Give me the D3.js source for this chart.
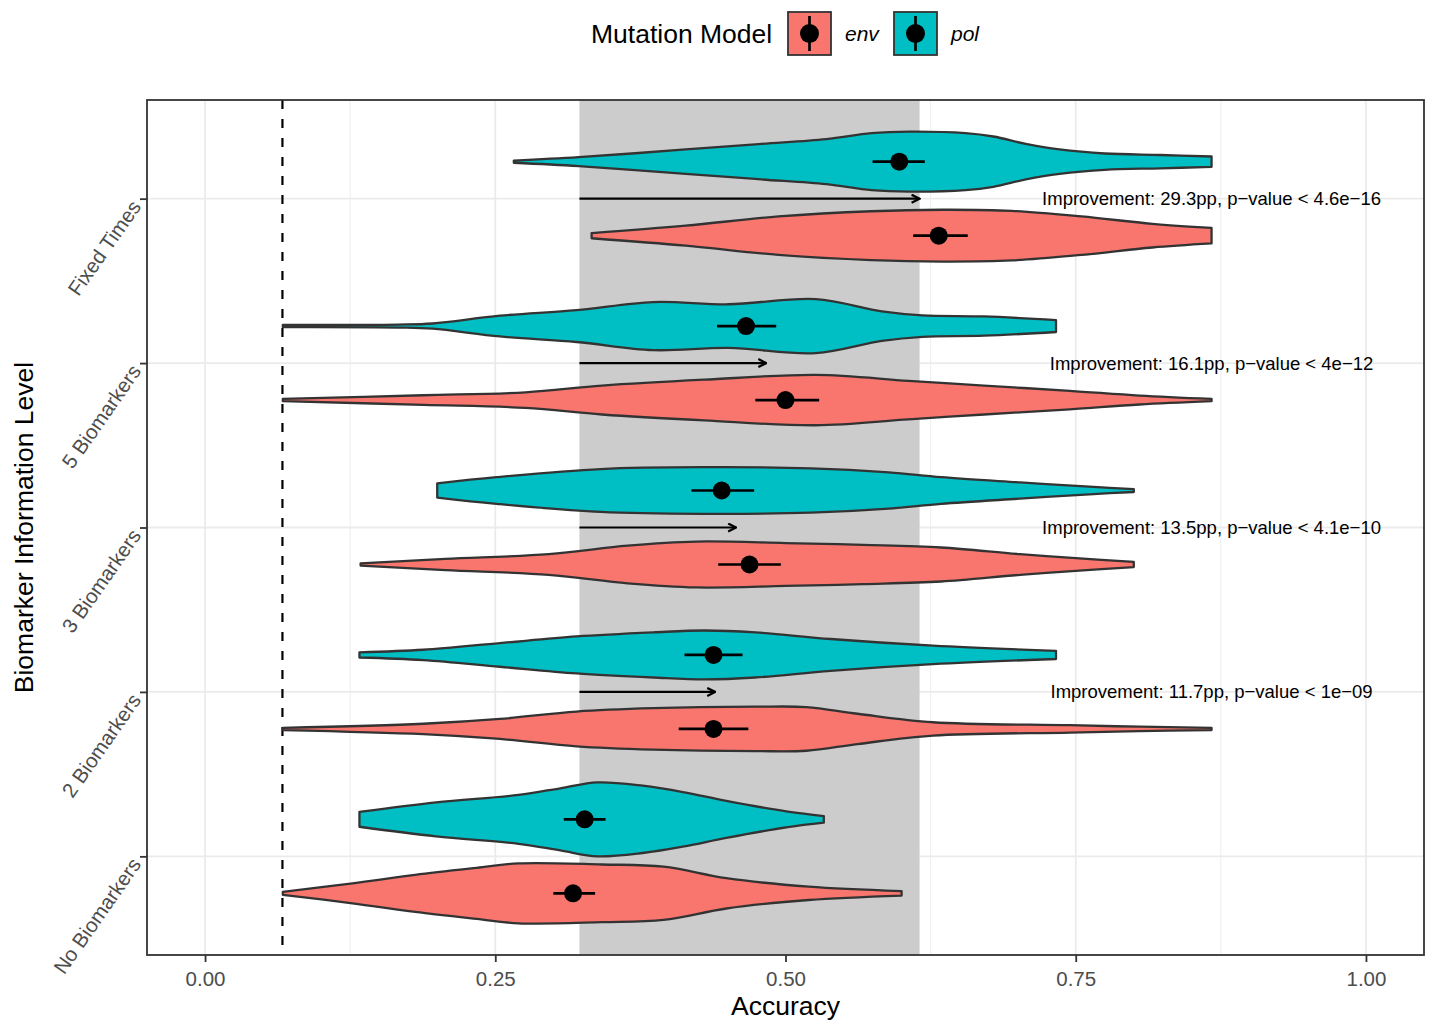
<!DOCTYPE html>
<html>
<head>
<meta charset="utf-8">
<style>
  body { margin: 0; background: #fff; }
  svg text { font-family: "Liberation Sans", Arial, sans-serif; }
</style>
</head>
<body>
<svg id="chart" width="1431" height="1022"></svg>
<script src="https://d3js.org/d3.v7.min.js"></script>
<script>
// categories, top to bottom
const levels = ["Fixed Times", "5 Biomarkers", "3 Biomarkers", "2 Biomarkers", "No Biomarkers"];
const models = ["env", "pol"];
const modelColors = ["#F8766D", "#00BFC4"];

// mean accuracy with error bar ends, same order as levels
const envMean = [0.632, 0.500, 0.469, 0.438, 0.317];
const envLow  = [0.610, 0.474, 0.442, 0.408, 0.300];
const envHigh = [0.657, 0.529, 0.496, 0.468, 0.336];
const polMean = [0.598, 0.466, 0.445, 0.438, 0.327];
const polLow  = [0.575, 0.441, 0.419, 0.413, 0.309];
const polHigh = [0.620, 0.492, 0.473, 0.463, 0.345];

// violin outlines: [accuracy, relative half width]
const envDensity = [
  [[0.333,0.07],[0.414,0.27],[0.494,0.52],[0.574,0.66],[0.635,0.70],[0.695,0.67],[0.755,0.52],[0.816,0.32],[0.867,0.21]],
  [[0.067,0.03],[0.188,0.13],[0.276,0.21],[0.342,0.39],[0.430,0.55],[0.526,0.68],[0.606,0.52],[0.671,0.39],[0.745,0.25],[0.805,0.12],[0.867,0.03]],
  [[0.134,0.03],[0.207,0.15],[0.296,0.28],[0.364,0.51],[0.423,0.62],[0.500,0.58],[0.567,0.53],[0.634,0.46],[0.702,0.28],[0.769,0.13],[0.800,0.07]],
  [[0.067,0.03],[0.188,0.14],[0.254,0.27],[0.320,0.47],[0.386,0.56],[0.474,0.60],[0.518,0.59],[0.562,0.41],[0.627,0.18],[0.745,0.10],[0.805,0.06],[0.867,0.03]],
  [[0.067,0.04],[0.127,0.27],[0.181,0.50],[0.234,0.69],[0.270,0.81],[0.342,0.78],[0.395,0.72],[0.449,0.41],[0.520,0.18],[0.600,0.06]]
];
const polDensity = [
  [[0.266,0.03],[0.322,0.12],[0.414,0.33],[0.479,0.48],[0.535,0.61],[0.574,0.77],[0.607,0.81],[0.655,0.77],[0.679,0.68],[0.707,0.48],[0.736,0.33],[0.775,0.22],[0.823,0.18],[0.867,0.14]],
  [[0.067,0.03],[0.166,0.04],[0.196,0.07],[0.254,0.28],[0.320,0.43],[0.386,0.65],[0.451,0.59],[0.526,0.73],[0.583,0.40],[0.618,0.29],[0.671,0.26],[0.733,0.16]],
  [[0.200,0.19],[0.251,0.36],[0.341,0.58],[0.432,0.63],[0.522,0.60],[0.589,0.49],[0.634,0.36],[0.702,0.22],[0.769,0.09],[0.800,0.04]],
  [[0.133,0.07],[0.188,0.14],[0.254,0.32],[0.320,0.50],[0.386,0.61],[0.430,0.66],[0.474,0.61],[0.539,0.43],[0.627,0.25],[0.733,0.11]],
  [[0.133,0.20],[0.199,0.46],[0.270,0.66],[0.306,0.84],[0.338,1.00],[0.377,0.91],[0.413,0.73],[0.449,0.50],[0.502,0.21],[0.533,0.09]]
];

// annotations for the first four levels
const improvementPP = [29.3, 16.1, 13.5, 11.7];
const pValues = ["4.6e-16", "4e-12", "4.1e-10", "1e-09"];
const baseline = 0.3225;
const chanceLevel = 1 / 15;
const xTicks = [0, 0.25, 0.5, 0.75, 1];
const xMinor = [0.125, 0.375, 0.625, 0.875];

const svg = d3.select("#chart");
const pLeft = 147, pRight = 1424, pTop = 100, pBottom = 955;

const x = d3.scaleLinear().domain([-0.05, 1.05]).range([pLeft, pRight]);
const y = d3.scalePoint().domain(levels).range([pTop, pBottom]).padding(0.6);
const step = y.step();
const dodge = 0.225 * step;

// panel grid
svg.append("rect").attr("x", pLeft).attr("y", pTop)
  .attr("width", pRight - pLeft).attr("height", pBottom - pTop).attr("fill", "#fff");
svg.append("g").selectAll("line").data(xMinor).join("line")
  .attr("x1", d => x(d)).attr("x2", d => x(d)).attr("y1", pTop).attr("y2", pBottom)
  .attr("stroke", "#EBEBEB").attr("stroke-width", 0.9);
svg.append("g").selectAll("line").data(xTicks).join("line")
  .attr("x1", d => x(d)).attr("x2", d => x(d)).attr("y1", pTop).attr("y2", pBottom)
  .attr("stroke", "#EBEBEB").attr("stroke-width", 1.8);
svg.append("g").selectAll("line").data(levels).join("line")
  .attr("x1", pLeft).attr("x2", pRight).attr("y1", d => y(d)).attr("y2", d => y(d))
  .attr("stroke", "#EBEBEB").attr("stroke-width", 1.8);

// grey band from baseline to best improvement
svg.append("rect")
  .attr("x", x(baseline)).attr("y", pTop)
  .attr("width", x(baseline + improvementPP[0] / 100) - x(baseline))
  .attr("height", pBottom - pTop).attr("fill", "#CCCCCC");

// chance level
svg.append("line")
  .attr("x1", x(chanceLevel)).attr("x2", x(chanceLevel)).attr("y1", pTop).attr("y2", pBottom)
  .attr("stroke", "#000").attr("stroke-width", 2.2).attr("stroke-dasharray", "9,10");

// violins
const violinArea = (cy) => d3.area()
  .x(d => x(d[0]))
  .y0(d => cy - d[1] * dodge)
  .y1(d => cy + d[1] * dodge)
  .curve(d3.curveCatmullRom.alpha(0.5));

const groups = [
  { dens: envDensity, mean: envMean, low: envLow, high: envHigh, off: dodge, color: modelColors[0] },
  { dens: polDensity, mean: polMean, low: polLow, high: polHigh, off: -dodge, color: modelColors[1] }
];

groups.forEach(g => {
  levels.forEach((lv, i) => {
    const cy = y(lv) + g.off;
    svg.append("path")
      .attr("d", violinArea(cy)(g.dens[i]))
      .attr("fill", g.color).attr("stroke", "#333333").attr("stroke-width", 2.3)
      .attr("stroke-linejoin", "round");
  });
});

// means with error bars
groups.forEach(g => {
  levels.forEach((lv, i) => {
    const cy = y(lv) + g.off;
    svg.append("line")
      .attr("x1", x(g.low[i])).attr("x2", x(g.high[i])).attr("y1", cy).attr("y2", cy)
      .attr("stroke", "#000").attr("stroke-width", 2.7);
    svg.append("circle")
      .attr("cx", x(g.mean[i])).attr("cy", cy).attr("r", 9).attr("fill", "#000");
  });
});

// improvement arrows and labels
const defs = svg.append("defs");
defs.append("marker").attr("id", "head")
  .attr("viewBox", "0 0 10 10").attr("refX", 9).attr("refY", 5)
  .attr("markerWidth", 10).attr("markerHeight", 10)
  .attr("markerUnits", "userSpaceOnUse").attr("orient", "auto")
  .append("path").attr("d", "M1,1 L9,5 L1,9")
  .attr("fill", "none").attr("stroke", "#000").attr("stroke-width", 2.2);

improvementPP.forEach((pp, i) => {
  const cy = y(levels[i]);
  svg.append("line")
    .attr("x1", x(baseline)).attr("x2", x(baseline + pp / 100))
    .attr("y1", cy).attr("y2", cy)
    .attr("stroke", "#000").attr("stroke-width", 2.2)
    .attr("marker-end", "url(#head)");
  svg.append("text")
    .attr("x", x(0.867)).attr("y", cy).attr("dy", "0.35em")
    .attr("text-anchor", "middle").attr("font-size", 18.5).attr("fill", "#000")
    .text(`Improvement: ${pp}pp, p\u2212value < ${pValues[i].replace("-", "\u2212")}`);
});

// panel border
svg.append("rect").attr("x", pLeft).attr("y", pTop)
  .attr("width", pRight - pLeft).attr("height", pBottom - pTop)
  .attr("fill", "none").attr("stroke", "#333333").attr("stroke-width", 1.8);

// x axis
const xAxis = svg.append("g").attr("transform", `translate(0,${pBottom})`)
  .call(d3.axisBottom(x).tickValues(xTicks).tickFormat(d3.format(".2f")).tickSize(7).tickPadding(9));
xAxis.select(".domain").remove();
xAxis.selectAll(".tick line").attr("stroke", "#333333").attr("stroke-width", 1.8);
xAxis.selectAll(".tick text").attr("fill", "#4D4D4D").attr("font-size", 20.5)
  .attr("font-family", "Liberation Sans, Arial, sans-serif");

// y axis
const yAxis = svg.append("g").attr("transform", `translate(${pLeft},0)`)
  .call(d3.axisLeft(y).tickSize(7).tickFormat(""));
yAxis.select(".domain").remove();
yAxis.selectAll(".tick line").attr("stroke", "#333333").attr("stroke-width", 1.8);
svg.append("g").selectAll("text").data(levels).join("text")
  .attr("transform", d => `translate(${pLeft - 11},${y(d) + 4}) rotate(-55)`)
  .attr("text-anchor", "end").attr("dy", "0.35em")
  .attr("font-size", 20.5).attr("fill", "#4D4D4D")
  .text(d => d);

// axis titles
svg.append("text").attr("x", (pLeft + pRight) / 2).attr("y", 1015)
  .attr("text-anchor", "middle").attr("font-size", 26.5).attr("fill", "#000")
  .text("Accuracy");
svg.append("text")
  .attr("transform", `translate(33,${(pTop + pBottom) / 2}) rotate(-90)`)
  .attr("text-anchor", "middle").attr("font-size", 26.5).attr("fill", "#000")
  .text("Biomarker Information Level");

// legend
const legend = svg.append("g");
legend.append("text").attr("x", 591).attr("y", 43)
  .attr("font-size", 26.5).attr("fill", "#000").text("Mutation Model");
const keyX = [788, 894];
models.forEach((m, i) => {
  const kg = legend.append("g").attr("transform", `translate(${keyX[i]},12)`);
  kg.append("rect").attr("width", 43).attr("height", 43)
    .attr("fill", modelColors[i]).attr("stroke", "#333333").attr("stroke-width", 1.8);
  kg.append("line").attr("x1", 21.5).attr("x2", 21.5).attr("y1", 4).attr("y2", 39)
    .attr("stroke", "#000").attr("stroke-width", 2.7);
  kg.append("circle").attr("cx", 21.5).attr("cy", 21.5).attr("r", 9.5).attr("fill", "#000");
  legend.append("text").attr("x", keyX[i] + 57).attr("y", 41)
    .attr("font-size", 21).attr("font-style", "italic").attr("fill", "#000").text(m);
});
</script>
</body>
</html>
